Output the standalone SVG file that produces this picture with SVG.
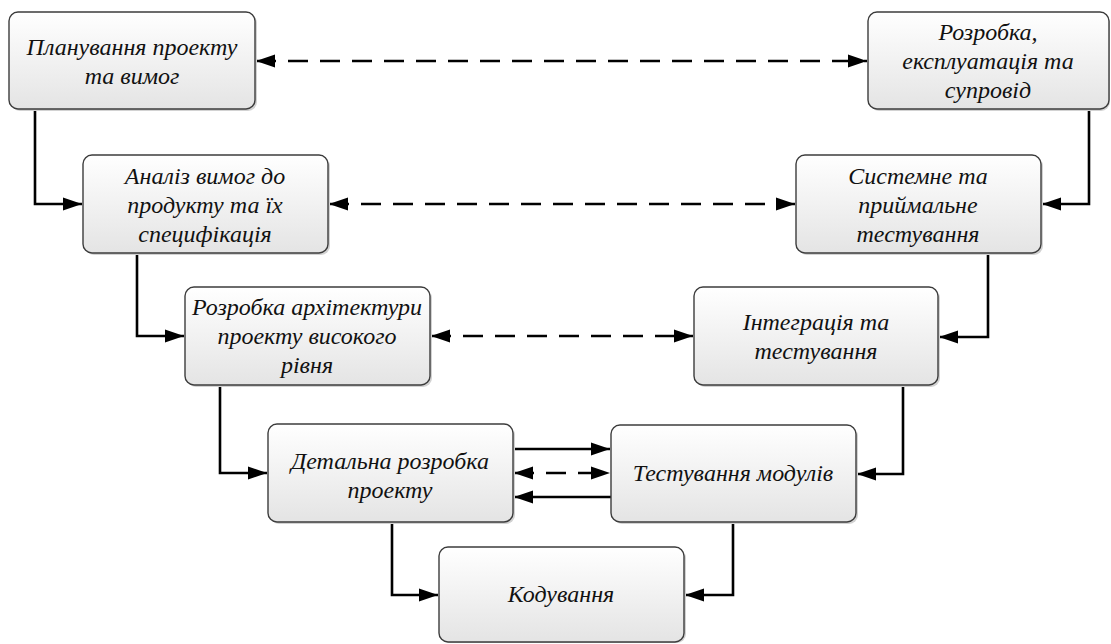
<svg xmlns="http://www.w3.org/2000/svg" width="1111" height="644" viewBox="0 0 1111 644">
<style>
.box{fill:url(#g);stroke:#3c3c3c;stroke-width:1.4}
.sh{fill:#d2d2d2}
.t{font-family:"Liberation Serif","Times New Roman",serif;font-style:italic;font-size:24px;fill:#111;text-anchor:middle}
.c{fill:none;stroke:#000;stroke-width:2.6}
.d{stroke-dasharray:20 12}
</style>
<defs>
<linearGradient id="g" x1="0" y1="0" x2="0" y2="1">
<stop offset="0" stop-color="#ffffff"/>
<stop offset="1" stop-color="#e4e4e4"/>
</linearGradient>
<marker id="a" markerUnits="userSpaceOnUse" markerWidth="20" markerHeight="14" refX="19" refY="6.5" orient="auto-start-reverse" viewBox="0 0 20 13">
<path d="M0,0 L19,6.5 L0,13 z" fill="#000"/>
</marker>
</defs>
<g id="connectors">
<path class="c" d="M35,109 V204 H82" marker-end="url(#a)"/>
<path class="c" d="M137,253 V336 H184" marker-end="url(#a)"/>
<path class="c" d="M220,385 V473 H267" marker-end="url(#a)"/>
<path class="c" d="M392,522 V595 H438" marker-end="url(#a)"/>
<path class="c" d="M1089,109 V204 H1042" marker-end="url(#a)"/>
<path class="c" d="M988,253 V337 H939" marker-end="url(#a)"/>
<path class="c" d="M903,385 V474 H857" marker-end="url(#a)"/>
<path class="c" d="M733,522 V595 H685" marker-end="url(#a)"/>
<path class="c d" d="M256,61 H867" marker-start="url(#a)" marker-end="url(#a)"/>
<path class="c d" d="M329,204 H795" marker-start="url(#a)" marker-end="url(#a)"/>
<path class="c d" d="M431,336 H693" marker-start="url(#a)" marker-end="url(#a)"/>
<path class="c d" d="M514,473 H610" marker-start="url(#a)" marker-end="url(#a)"/>
<path class="c" d="M513,449 H610" marker-end="url(#a)"/>
<path class="c" d="M611,497 H514" marker-end="url(#a)"/>
</g>
<g id="plan">
<rect class="sh" x="11" y="14" width="246" height="97" rx="9"/>
<rect class="box" x="9" y="12" width="246" height="97" rx="9"/>
<text class="t" x="132" y="55">Планування проекту</text>
<text class="t" x="132" y="84">та вимог</text>
</g>
<g id="support">
<rect class="sh" x="870" y="14" width="240" height="97" rx="9"/>
<rect class="box" x="868" y="12" width="241" height="97" rx="9"/>
<text class="t" x="988" y="40">Розробка,</text>
<text class="t" x="988" y="69">експлуатація та</text>
<text class="t" x="988" y="98">супровід</text>
</g>
<g id="analysis">
<rect class="sh" x="85" y="157" width="245" height="98" rx="9"/>
<rect class="box" x="83" y="155" width="245" height="98" rx="9"/>
<text class="t" x="205" y="184">Аналіз вимог до</text>
<text class="t" x="205" y="213">продукту та їх</text>
<text class="t" x="205" y="242">специфікація</text>
</g>
<g id="system">
<rect class="sh" x="798" y="157" width="245" height="98" rx="9"/>
<rect class="box" x="796" y="155" width="245" height="98" rx="9"/>
<text class="t" x="918" y="184">Системне та</text>
<text class="t" x="918" y="213">приймальне</text>
<text class="t" x="918" y="242">тестування</text>
</g>
<g id="architecture">
<rect class="sh" x="187" y="289" width="245" height="98" rx="9"/>
<rect class="box" x="185" y="287" width="245" height="98" rx="9"/>
<text class="t" x="307" y="315">Розробка архітектури</text>
<text class="t" x="307" y="344">проекту високого</text>
<text class="t" x="307" y="373">рівня</text>
</g>
<g id="integration">
<rect class="sh" x="696" y="289" width="244" height="98" rx="9"/>
<rect class="box" x="694" y="287" width="244" height="98" rx="9"/>
<text class="t" x="816" y="330">Інтеграція та</text>
<text class="t" x="816" y="359">тестування</text>
</g>
<g id="detailed">
<rect class="sh" x="270" y="426" width="245" height="98" rx="9"/>
<rect class="box" x="268" y="424" width="245" height="98" rx="9"/>
<text class="t" x="390" y="469">Детальна розробка</text>
<text class="t" x="390" y="498">проекту</text>
</g>
<g id="unit-testing">
<rect class="sh" x="613" y="427" width="245" height="97" rx="9"/>
<rect class="box" x="611" y="425" width="245" height="97" rx="9"/>
<text class="t" x="733" y="481">Тестування модулів</text>
</g>
<g id="coding">
<rect class="sh" x="441" y="549" width="245" height="94" rx="9"/>
<rect class="box" x="439" y="547" width="245" height="95" rx="9"/>
<text class="t" x="561" y="602">Кодування</text>
</g>
</svg>
